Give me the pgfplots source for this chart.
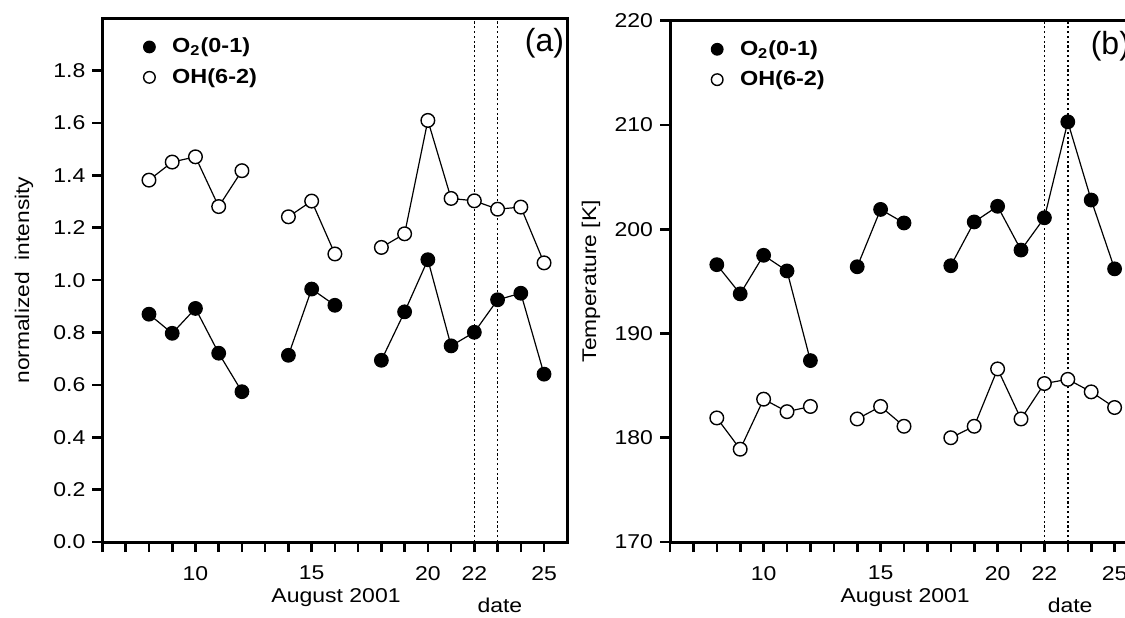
\documentclass[border=0pt]{standalone}
\usepackage{pgfplots}
\pgfplotsset{compat=1.18}
\usepackage{fontspec}
\setmainfont{Liberation Sans}[FakeStretch=1.15]
\newfontfamily\labfont{Liberation Sans}

\pgfplotstableread{
day o2 oh
8 0.870 1.382
9 0.797 1.451
10 0.892 1.471
11 0.721 1.281
12 0.574 1.418
13 nan nan
14 0.713 1.242
15 0.966 1.302
16 0.904 1.100
17 nan nan
18 0.694 1.125
19 0.879 1.177
20 1.078 1.610
21 0.749 1.312
22 0.801 1.303
23 0.925 1.271
24 0.950 1.279
25 0.641 1.066
}\inttab

\pgfplotstableread{
day o2 oh
8 196.6 181.9
9 193.8 178.9
10 197.5 183.7
11 196.0 182.5
12 187.4 183.0
13 nan nan
14 196.4 181.8
15 201.9 183.0
16 200.6 181.1
17 nan nan
18 196.5 180.0
19 200.7 181.1
20 202.2 186.6
21 198.0 181.8
22 201.1 185.2
23 210.3 185.6
24 202.8 184.4
25 196.2 182.9
}\temptab

\pgfplotsset{
  panel/.style={
    scale only axis, anchor=south west,
    xmin=6, xmax=26,
    axis line style={line width=1.5pt},
    every tick/.style={line width=1.3pt, black},
    tick align=outside,
    major tick length=5pt,
    xtick={6,...,25},
    xticklabels={,,,,10,,,,,15,,,,,20,,22,,,25},
    xtick pos=bottom, ytick pos=left,
    font=\fontsize{10}{12}\selectfont,
    ticklabel style={font=\fontsize{10}{12}\selectfont},
    xticklabel style={yshift=-3.5pt},
    /pgf/number format/assume math mode=true,
    unbounded coords=jump,
    clip=false,
    every axis y label/.style={at={(axis description cs:-0.169,0.5)}, rotate=90, anchor=center, font=\fontsize{9.9}{12}\selectfont},
    legend style={at={(axis description cs:0.0876,0.963)}, anchor=north west, draw=none, fill=none,
      inner sep=0pt, row sep=6.3pt, column sep=8.5pt,
      font=\bfseries\fontsize{10.2}{12}\selectfont,
      nodes={inner sep=0pt}},
    legend cell align=left,
    legend image code/.code={\path[##1, mark size=2.9pt] plot coordinates {(0pt,0pt)};},
  },
  o2/.style={black, line width=0.6pt, mark=*, mark size=3.4pt, mark options={fill=black, draw=black, line width=0.6pt}},
  oh/.style={black, line width=0.6pt, mark=*, mark size=3.4pt, mark options={fill=white, draw=black, line width=0.7pt}},
  dotl/.style={black, line width=0.75pt, dash pattern=on 1.1pt off 1.3pt, forget plot},
}

\begin{document}
\begin{tikzpicture}
\begin{axis}[panel, at={(51.25pt,37.5pt)}, width=232.4pt, height=261.85pt,
  ymin=0, ymax=2, ytick={0,0.2,0.4,0.6,0.8,1.0,1.2,1.4,1.6,1.8},
  yticklabel style={/pgf/number format/.cd, fixed, fixed zerofill, precision=1},
  ylabel={normalized\hspace{0.6em}intensity}]
\addplot[dotl] coordinates {(22,0) (22,2)};
\addplot[dotl] coordinates {(23,0) (23,2)};
\addplot[o2] table[x=day, y=o2] {\inttab};
\addlegendentry{O\textsubscript{2}(0-1)}
\addplot[oh] table[x=day, y=oh] {\inttab};
\addlegendentry{OH(6-2)}
\node[font=\labfont\fontsize{16}{18}\selectfont] at (rel axis cs:0.951,0.952) {(a)};
\node[anchor=center] at (axis cs:16.05,0) [yshift=-28pt] {August 2001};
\node[anchor=center] at (axis cs:23.1,0) [yshift=-31.5pt] {date};
\end{axis}

\begin{axis}[panel, at={(335pt,37.5pt)}, width=234pt, height=260.65pt,
  ymin=170, ymax=220, ytick={170,180,...,220},
  ylabel={Temperature [K]}]
\addplot[dotl] coordinates {(22,170) (22,220)};
\addplot[dotl] coordinates {(23,170) (23,220)};
\addplot[o2] table[x=day, y=o2] {\temptab};
\addlegendentry{O\textsubscript{2}(0-1)}
\addplot[oh] table[x=day, y=oh] {\temptab};
\addlegendentry{OH(6-2)}
\node[font=\labfont\fontsize{16}{18}\selectfont] at (rel axis cs:0.941,0.952) {(b)};
\node[anchor=center] at (axis cs:16.05,170) [yshift=-28pt] {August 2001};
\node[anchor=center] at (axis cs:23.1,170) [yshift=-31.5pt] {date};
\end{axis}
\pgfresetboundingbox
\useasboundingbox (0,0) rectangle (562.5pt,308.5pt);
\end{tikzpicture}
\end{document}
